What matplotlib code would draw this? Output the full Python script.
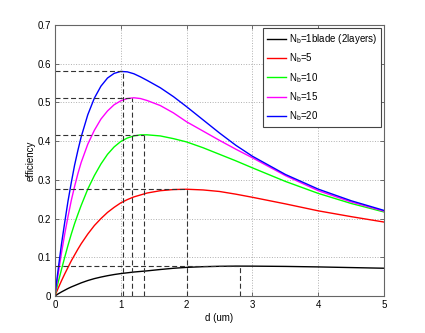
import matplotlib
matplotlib.use('Agg')
import matplotlib.pyplot as plt

plt.rcParams['font.family'] = ['Liberation Sans', 'DejaVu Sans']
plt.rcParams['mathtext.default'] = 'regular'

# thickness d (um) where the curves were read
d = [0, 0.05, 0.1, 0.15, 0.2, 0.25, 0.3, 0.35, 0.4, 0.5, 0.6, 0.7, 0.8, 0.9, 1.0,
     1.1, 1.2, 1.3, 1.4, 1.6, 1.8, 2.0, 2.25, 2.5, 2.75, 3.0, 3.5, 4.0, 4.5, 5.0]

# efficiency for each number of blades
eff_1 = [0, 0.0055, 0.0105, 0.015, 0.0195, 0.0235, 0.027, 0.0305, 0.034, 0.040,
         0.045, 0.049, 0.0525, 0.0555, 0.058, 0.060, 0.062, 0.0635, 0.065, 0.0685,
         0.0717, 0.074, 0.0758, 0.0768, 0.0773, 0.0772, 0.0765, 0.0752, 0.0735, 0.0718]
eff_5 = [0, 0.02, 0.039, 0.057, 0.074, 0.091, 0.106, 0.121, 0.135, 0.160, 0.182,
         0.200, 0.216, 0.229, 0.2405, 0.249, 0.256, 0.261, 0.266, 0.272, 0.275,
         0.2758, 0.274, 0.270, 0.263, 0.255, 0.238, 0.220, 0.205, 0.191]
eff_10 = [0, 0.035, 0.068, 0.1, 0.131, 0.16, 0.187, 0.211, 0.234, 0.276, 0.311,
          0.341, 0.366, 0.385, 0.399, 0.408, 0.4135, 0.4162, 0.4163, 0.4135, 0.4065,
          0.398, 0.383, 0.366, 0.349, 0.331, 0.296, 0.265, 0.239, 0.217]
eff_15 = [0, 0.056, 0.11, 0.16, 0.205, 0.247, 0.283, 0.316, 0.345, 0.392, 0.428,
          0.457, 0.478, 0.494, 0.504, 0.510, 0.512, 0.510, 0.505, 0.492, 0.473,
          0.450, 0.426, 0.402, 0.379, 0.357, 0.311, 0.272, 0.243, 0.219]
eff_20 = [0, 0.068, 0.133, 0.19, 0.245, 0.293, 0.338, 0.376, 0.411, 0.468, 0.511,
          0.542, 0.563, 0.575, 0.580, 0.579, 0.574, 0.566, 0.557, 0.538, 0.515,
          0.489, 0.455, 0.421, 0.389, 0.361, 0.314, 0.276, 0.246, 0.221]

labels = ['N$_b$=1blade (2layers)', 'N$_b$=5', 'N$_b$=10', 'N$_b$=15', 'N$_b$=20']
colors = ['#000000', '#ff0000', '#00ff00', '#ff00ff', '#0000ff']

# optimum point of each curve
peak_d = [2.81, 2.0, 1.36, 1.17, 1.04]
peak_eff = [0.0773, 0.2758, 0.4165, 0.512, 0.580]

fig = plt.figure(figsize=(4.25, 3.33), dpi=100)
ax = fig.add_axes([0.129, 0.111, 0.775, 0.814])

for y, c, lab in zip([eff_1, eff_5, eff_10, eff_15, eff_20], colors, labels):
    ax.plot(d, y, color=c, lw=1.0, label=lab)

# dashed guide lines to the optimum
for px, py in zip(peak_d, peak_eff):
    ax.plot([0, px], [py, py], color='#333333', lw=0.8, dashes=(4.5, 2.5))
    ax.plot([px, px], [0, py], color='#333333', lw=0.8, dashes=(4.5, 2.5))

ax.set_xlim(0, 5)
ax.set_ylim(0, 0.7)
ax.set_xticks([0, 1, 2, 3, 4, 5])
ax.set_yticks([0, 0.1, 0.2, 0.3, 0.4, 0.5, 0.6, 0.7])
ax.set_yticklabels(['0', '0.1', '0.2', '0.3', '0.4', '0.5', '0.6', '0.7'])
ax.grid(True, linestyle=':', color='#b0b0b0', lw=0.7)
ax.tick_params(direction='in', top=True, right=True, labelsize=7, length=3,
               color='#555555', width=0.6, pad=3)
for s in ax.spines.values():
    s.set_color('#666666')
    s.set_linewidth(0.8)

ax.set_xlabel('d (um)', fontsize=7, labelpad=2)
ax.set_ylabel('efficiency', fontsize=7, labelpad=1)

leg = ax.legend(loc='upper right', fontsize=7, fancybox=False, framealpha=1,
                edgecolor='#444444', borderaxespad=0.35, handlelength=2.0,
                labelspacing=0.55, handletextpad=0.25, borderpad=0.4)
leg.get_frame().set_linewidth(0.8)

fig.savefig('out.png', dpi=100)
